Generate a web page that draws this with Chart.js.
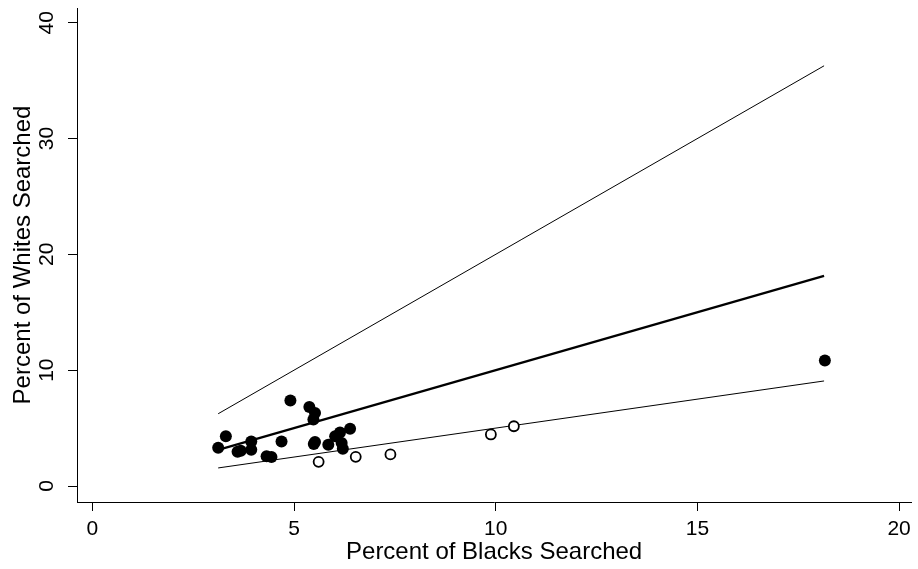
<!DOCTYPE html>
<html>
<head>
<meta charset="utf-8">
<script src="https://cdn.jsdelivr.net/npm/chart.js@4"></script>
<style>
  html, body { margin: 0; padding: 0; background: #fff; }
  #wrap { width: 918px; height: 569px; }
</style>
</head>
<body>
<div id="wrap"><canvas id="searchChart"></canvas></div>
<script>
// filled markers
const filledX = [3.12, 3.31, 3.60, 3.68, 3.94, 3.94, 4.32, 4.44, 4.69, 4.91, 5.38, 5.52, 5.48, 5.49, 5.52, 5.85, 6.02, 6.14, 6.39, 6.18, 6.21, 18.16];
const filledY = [3.30, 4.30, 2.95, 3.05, 3.85, 3.14, 2.56, 2.50, 3.85, 7.38, 6.82, 6.30, 5.75, 3.62, 3.80, 3.57, 4.29, 4.62, 4.95, 3.71, 3.22, 10.84];
// hollow markers
const hollowX = [5.61, 6.53, 7.39, 9.88, 10.45];
const hollowY = [2.09, 2.52, 2.73, 4.45, 5.16];
// reference lines (two end points each)
const lineX = [3.12, 18.14];
const upperY = [6.24, 36.28];
const middleY = [3.12, 18.14];
const lowerY = [1.56, 9.07];

const xTicks = [0, 5, 10, 15, 20];
const yTicks = [0, 10, 20, 30, 40];

const pts = (xs, ys) => xs.map((x, i) => ({ x: x, y: ys[i] }));

const tickFont = { family: 'Liberation Sans', size: 21 };
const titleFont = { family: 'Liberation Sans', size: 24 };

new Chart(document.getElementById('searchChart'), {
  type: 'scatter',
  data: {
    datasets: [
      { data: pts(filledX, filledY), pointRadius: 6, pointBorderWidth: 0, backgroundColor: '#000', borderColor: '#000' },
      { data: pts(hollowX, hollowY), pointRadius: 5, pointBorderWidth: 1.8, backgroundColor: '#fff', borderColor: '#000' },
      { data: pts(lineX, middleY), showLine: true, pointRadius: 0, borderColor: '#000', borderWidth: 2.2 },
      { data: pts(lineX, upperY), showLine: true, pointRadius: 0, borderColor: '#000', borderWidth: 1 },
      { data: pts(lineX, lowerY), showLine: true, pointRadius: 0, borderColor: '#000', borderWidth: 1 }
    ]
  },
  options: {
    responsive: true,
    maintainAspectRatio: false,
    animation: false,
    layout: { padding: { top: 8, right: 0, left: 0, bottom: 0 } },
    plugins: { legend: { display: false }, tooltip: { enabled: false } },
    scales: {
      x: {
        type: 'linear',
        min: -0.38,
        max: 20.3,
        afterBuildTicks: s => { s.ticks = xTicks.map(v => ({ value: v })); },
        afterFit: s => { s.height = 67; s.paddingLeft = 0; s.paddingRight = 0; },
        grid: { drawOnChartArea: false, drawTicks: true, tickLength: 9, color: '#000' },
        border: { display: true, color: '#000', width: 1 },
        ticks: { autoSkip: false, font: tickFont, color: '#000', padding: 6, maxRotation: 0 },
        title: { display: true, text: 'Percent of Blacks Searched', font: titleFont, color: '#000', padding: { top: 0, bottom: 2 } }
      },
      y: {
        type: 'linear',
        min: -1.38,
        max: 41.27,
        afterBuildTicks: s => { s.ticks = yTicks.map(v => ({ value: v })); },
        afterFit: s => { s.width = 77; s.paddingTop = 0; s.paddingBottom = 0; },
        grid: { drawOnChartArea: false, drawTicks: true, tickLength: 9, color: '#000' },
        border: { display: true, color: '#000', width: 1 },
        ticks: { autoSkip: false, font: tickFont, color: '#000', padding: 9, minRotation: 90, maxRotation: 90, crossAlign: 'center' },
        title: { display: true, text: 'Percent of Whites Searched', font: titleFont, color: '#000', padding: { top: 9, bottom: 0 } }
      }
    }
  }
});
</script>
</body>
</html>
